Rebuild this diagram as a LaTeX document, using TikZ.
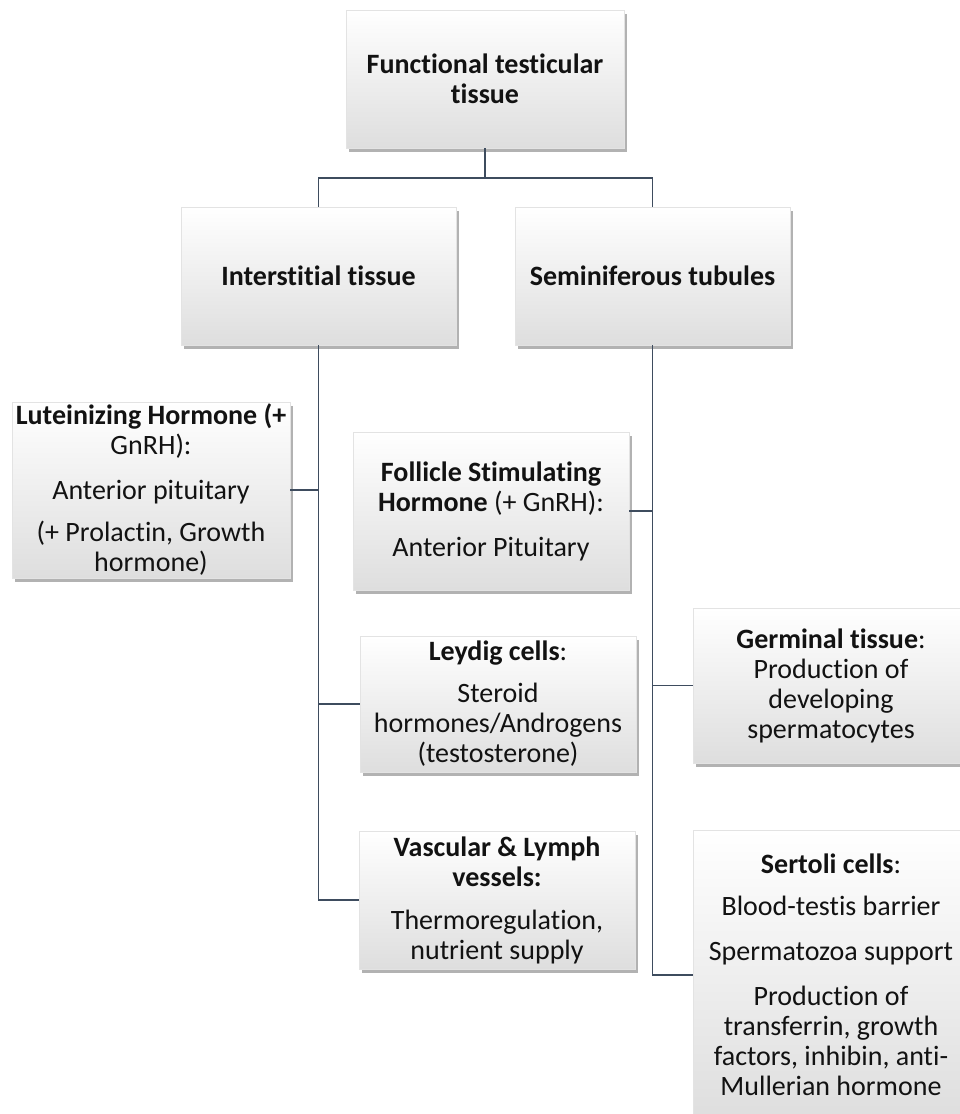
\documentclass[tikz,border=0pt]{standalone}
\usepackage{fontspec}
\setmainfont[Ligatures=CommonOff]{Carlito}
\usetikzlibrary{shadows}
\definecolor{linec}{HTML}{3E4C5E}
\definecolor{txt}{HTML}{121212}
\tikzset{
  box/.style={draw=gray!22, line width=0.4pt, top color=white, middle color=white, bottom color=gray!26,
    drop shadow={shadow xshift=2.5pt, shadow yshift=-3.5pt, fill=black, opacity=0.3},
    align=center, inner sep=0pt, text=txt, font=\fontsize{28}{30}\selectfont},
  conn/.style={draw=linec, line width=1.4pt}
}
\begin{document}
\begin{tikzpicture}[x=1pt,y=-1pt]
\useasboundingbox (0,0) rectangle (960,1114);
\clip (0,0) rectangle (960,1114);
\fill[white] (0,0) rectangle (960,1114);

\node[box, minimum width=278pt, minimum height=138pt] (top) at (485,79) {\textbf{Functional testicular}\\\textbf{tissue}};
\node[box, minimum width=275pt, minimum height=138pt] (inter) at (318.5,276) {\textbf{Interstitial tissue}};
\node[box, minimum width=275pt, minimum height=138pt] (semi) at (652.5,276) {\textbf{Seminiferous tubules}};

\node[box, minimum width=278pt, minimum height=176pt] (lh) at (151,490) {\textbf{Luteinizing Hormone (+}\\GnRH):\\[15pt]Anterior pituitary\\[12pt](+ Prolactin, Growth\\hormone)};
\node[box, minimum width=276pt, minimum height=158pt] (fsh) at (491,511) {\textbf{Follicle Stimulating}\\\textbf{Hormone} (+ GnRH):\\[15pt]Anterior Pituitary};
\node[box, minimum width=276pt, minimum height=136pt] (leydig) at (498,704) {\textbf{Leydig cells}:\\[12pt]Steroid\\hormones/Androgens\\(testosterone)};
\node[box, minimum width=276pt, minimum height=138pt] (vasc) at (497,900) {\textbf{Vascular \& Lymph}\\\textbf{vessels:}\\[13pt]Thermoregulation,\\nutrient supply};
\node[box, minimum width=276pt, minimum height=155pt] (germ) at (831,685.5) {\textbf{Germinal tissue}:\\Production of\\developing\\spermatocytes};
\node[box, minimum width=276pt, minimum height=290pt] (sert) at (831,975) {\textbf{Sertoli cells}:\\[12pt]Blood-testis barrier\\[15pt]Spermatozoa support\\[15pt]Production of\\transferrin, growth\\factors, inhibin, anti-\\Mullerian hormone};

\coordinate (j) at (485,178);
\draw[conn] (top.south) -- (j);
\draw[conn] (inter.north) |- (j) -| (semi.north);

\draw[conn] (inter.south) |- (vasc.west);
\draw[conn] (lh.east) -- (lh.east -| inter.south);
\draw[conn] (leydig.west) -- (leydig.west -| inter.south);

\draw[conn] (semi.south) |- (sert.west);
\draw[conn] (fsh.east) -- (fsh.east -| semi.south);
\draw[conn] (germ.west) -- (germ.west -| semi.south);
\end{tikzpicture}
\end{document}
